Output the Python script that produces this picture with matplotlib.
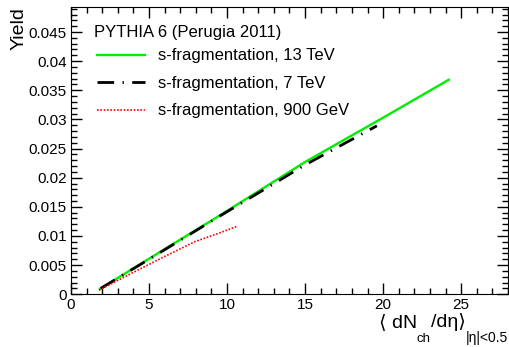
import numpy as np
import matplotlib
matplotlib.use("Agg")
import matplotlib.pyplot as plt
from matplotlib.ticker import MultipleLocator

plt.rcParams['font.family'] = ['Liberation Sans', 'DejaVu Sans']

# yields vs <dNch/deta> from PYTHIA 6 Perugia 2011
mult_13tev = [1.85, 5.0, 9.4, 15.0, 20.0, 24.2]
yield_13tev = [0.0009, 0.0061, 0.0133, 0.0227, 0.0303, 0.0368]

mult_7tev = [1.9, 5.0, 9.4, 15.0, 19.6]
yield_7tev = [0.0010, 0.0060, 0.0132, 0.0222, 0.0289]

mult_900gev = [1.79, 3.66, 5.79, 7.91, 9.5, 10.68]
yield_900gev = [0.0007, 0.0033, 0.0062, 0.0090, 0.0105, 0.0117]

labels = ["s-fragmentation, 13 TeV", "s-fragmentation, 7 TeV", "s-fragmentation, 900 GeV"]

fig = plt.figure(figsize=(5.09, 3.47), dpi=100)
ax = fig.add_axes([0.1395, 0.152, 0.8585, 0.828])

ax.plot(mult_13tev, yield_13tev, color='#00ee00', lw=1.7, label=labels[0])
ax.plot(mult_7tev, yield_7tev, color='black', lw=2.0, dashes=(6, 3, 0.5, 3), label=labels[1])
ax.plot(mult_900gev, yield_900gev, color='red', lw=1.2, dashes=(1, 1), label=labels[2])

ax.set_xlim(0, 28)
ax.set_ylim(0, 0.0493)
ax.xaxis.set_major_locator(MultipleLocator(5))
ax.xaxis.set_minor_locator(MultipleLocator(1))
ax.yaxis.set_major_locator(MultipleLocator(0.005))
ax.yaxis.set_minor_locator(MultipleLocator(0.001))
ax.tick_params(which='both', direction='in', top=True, right=True, labelsize=11, width=1)
ax.tick_params(which='major', length=8, pad=3)
ax.tick_params(which='minor', length=4)
ax.yaxis.set_major_formatter(matplotlib.ticker.FuncFormatter(lambda v, p: f"{v:g}"))

ax.set_ylabel("Yield", fontsize=14)
ax.yaxis.set_label_coords(-0.1, 1.0)
ax.yaxis.label.set_ha('right')

# x title built ROOT-like from pieces, chained right to left
renderer = fig.canvas.get_renderer()
pieces = [("|η|<0.5", 10, 0.0144),
          ("/dη⟩", 14, 0.0576),
          ("ch", 9.5, 0.0144),
          ("⟨ dN", 14, 0.0576)]
x_right = 508 / 509
for txt, size, ybase in pieces:
    t = fig.text(x_right, ybase, txt, fontsize=size, ha='right', va='baseline')
    bb = t.get_window_extent(renderer)
    x_right = bb.x0 / fig.bbox.width

leg = ax.legend(loc='upper left', bbox_to_anchor=(0.044, 0.879), frameon=False, fontsize=12,
                handlelength=2.9, handletextpad=0.75, labelspacing=0.75, borderaxespad=0.0)
ax.text(0.052, 0.91, "PYTHIA 6 (Perugia 2011)", transform=ax.transAxes, fontsize=12, va='center')

fig.savefig("out.png", dpi=100)
